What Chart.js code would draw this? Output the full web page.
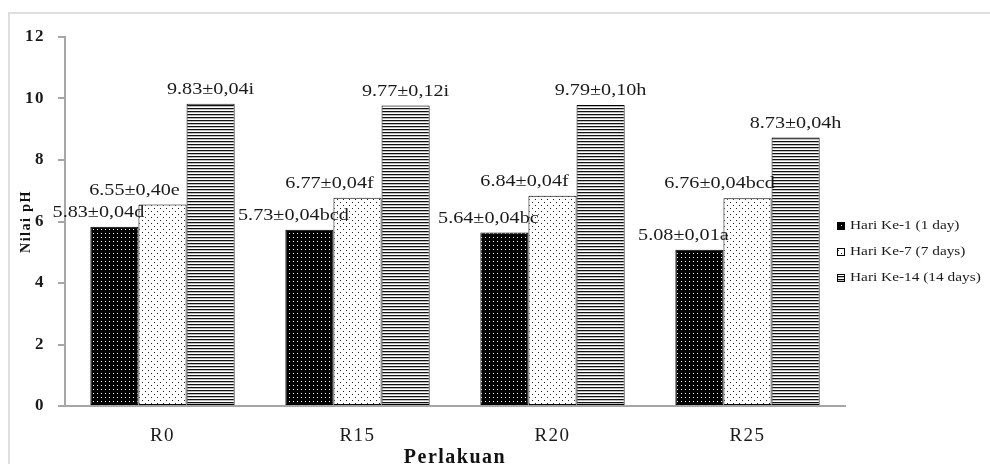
<!DOCTYPE html>
<html>
<head>
<meta charset="utf-8">
<script src="https://cdn.jsdelivr.net/npm/chart.js@4.4.1/dist/chart.umd.min.js"></script>
<style>
  html, body { margin: 0; padding: 0; background: #fff; overflow: hidden; }
  #wrap { width: 990px; height: 464px; position: relative; }
</style>
</head>
<body>
<div id="wrap"><canvas id="phChart"></canvas></div>
<script>
// Data
const categories = ['R0', 'R15', 'R20', 'R25'];
const seriesNames = ['Hari Ke-1 (1 day)', 'Hari Ke-7 (7 days)', 'Hari Ke-14 (14 days)'];
const day1 = [5.83, 5.73, 5.64, 5.08];
const day7 = [6.55, 6.77, 6.84, 6.76];
const day14 = [9.83, 9.77, 9.79, 8.73];
const day1Labels = ['5.83±0,04d', '5.73±0,04bcd', '5.64±0,04bc', '5.08±0,01a'];
const day7Labels = ['6.55±0,40e', '6.77±0,04f', '6.84±0,04f', '6.76±0,04bcd'];
const day14Labels = ['9.83±0,04i', '9.77±0,12i', '9.79±0,10h', '8.73±0,04h'];
const yTicks = [0, 2, 4, 6, 8, 10, 12];

const serif = '"Liberation Serif", "Times New Roman", serif';

// Fill patterns (dots on black, dots on white, horizontal stripes)
function makePattern(kind) {
    const c = document.createElement('canvas');
    const g = c.getContext('2d');
    if (kind === 'darkDots') {
        c.width = 4; c.height = 4;
        g.fillStyle = '#000'; g.fillRect(0, 0, 4, 4);
        g.fillStyle = '#fff'; g.fillRect(1, 1, 1, 1);
    } else if (kind === 'lightDots') {
        c.width = 6; c.height = 6;
        g.fillStyle = '#fff'; g.fillRect(0, 0, 6, 6);
        g.fillStyle = '#222';
        g.fillRect(1, 1, 1, 1);
        g.fillRect(4, 4, 1, 1);
    } else {
        c.width = 4; c.height = 3;
        g.fillStyle = '#bdbdbd'; g.fillRect(0, 0, 4, 3);
        g.fillStyle = '#111'; g.fillRect(0, 0, 4, 1);
        g.fillStyle = '#fff'; g.fillRect(0, 2, 4, 1);
    }
    return g.createPattern(c, 'repeat');
}

const fills = [makePattern('darkDots'), makePattern('lightDots'), makePattern('stripes')];
const valueLabels = [day1Labels, day7Labels, day14Labels];

// The original text is set wide, so space the axis letters a little
const spacing = {
    id: 'spacing',
    beforeLayout(chart) { chart.ctx.letterSpacing = '1.5px'; },
    beforeDraw(chart) { chart.ctx.letterSpacing = '1.5px'; }
};

// draw text stretched sideways, like the source figure
function wideText(ctx, text, x, y, sx) {
    ctx.save();
    ctx.translate(x, y);
    ctx.scale(sx, 1);
    ctx.fillText(text, 0, 0);
    ctx.restore();
}

// Value labels above each bar
const barLabels = {
    id: 'barLabels',
    afterDatasetsDraw(chart) {
        const ctx = chart.ctx;
        const shift = [-16, -28, 0];
        ctx.save();
        ctx.font = '16px ' + serif;
        ctx.letterSpacing = '0px';
        ctx.fillStyle = '#1a1a1a';
        ctx.textAlign = 'center';
        ctx.textBaseline = 'alphabetic';
        chart.data.datasets.forEach((ds, i) => {
            chart.getDatasetMeta(i).data.forEach((bar, j) => {
                wideText(ctx, valueLabels[i][j], bar.x + shift[i], bar.y - 10, 1.26);
            });
        });
        ctx.restore();
    }
};

// Legend on the right and light frame lines
const sideLegend = {
    id: 'sideLegend',
    afterDraw(chart) {
        const ctx = chart.ctx;
        ctx.save();
        ctx.strokeStyle = '#dedede';
        ctx.lineWidth = 2;
        ctx.beginPath();
        ctx.moveTo(9, 464);
        ctx.lineTo(9, 13);
        ctx.lineTo(990, 13);
        ctx.stroke();

        ctx.font = '13px ' + serif;
        ctx.letterSpacing = '0px';
        ctx.textBaseline = 'middle';
        ctx.textAlign = 'left';
        chart.data.datasets.forEach((ds, i) => {
            const y = 226 + i * 26;
            ctx.fillStyle = ds.backgroundColor;
            ctx.fillRect(837, y - 4, 8, 8);
            ctx.strokeStyle = '#000';
            ctx.lineWidth = 1;
            ctx.strokeRect(837.5, y - 3.5, 7, 7);
            ctx.fillStyle = '#1a1a1a';
            wideText(ctx, ds.label, 850, y, 1.18);
        });
        ctx.restore();
    }
};

new Chart(document.getElementById('phChart'), {
    type: 'bar',
    data: {
        labels: categories,
        datasets: [
            { label: seriesNames[0], data: day1, backgroundColor: fills[0] },
            { label: seriesNames[1], data: day7, backgroundColor: fills[1] },
            { label: seriesNames[2], data: day14, backgroundColor: fills[2] }
        ].map(ds => Object.assign(ds, {
            borderColor: '#000',
            borderWidth: 1,
            borderSkipped: false,
            barPercentage: 1,
            categoryPercentage: 0.74
        }))
    },
    options: {
        responsive: true,
        maintainAspectRatio: false,
        animation: false,
        layout: { padding: { left: 18, top: 37, right: 145, bottom: 0 } },
        plugins: {
            legend: { display: false },
            tooltip: { enabled: false }
        },
        scales: {
            x: {
                grid: { display: false, drawTicks: false },
                border: { color: '#a6a6a6', width: 2 },
                ticks: {
                    color: '#1a1a1a',
                    padding: 19,
                    font: { family: serif, size: 19 }
                },
                title: {
                    display: true,
                    text: 'Perlakuan',
                    color: '#111',
                    padding: { top: 0, bottom: -6 },
                    font: { family: serif, size: 20, weight: 'bold' }
                },
                afterFit(scale) { scale.height = 58; }
            },
            y: {
                min: 0,
                max: 12,
                afterBuildTicks(scale) {
                    scale.ticks = yTicks.map(v => ({ value: v }));
                },
                grid: { drawOnChartArea: false, tickLength: 7, color: '#a6a6a6', lineWidth: 2 },
                border: { color: '#a6a6a6', width: 2 },
                ticks: {
                    color: '#1a1a1a',
                    padding: 13,
                    font: { family: serif, size: 17, weight: 'bold' }
                },
                title: {
                    display: true,
                    text: 'Nilai pH',
                    color: '#111',
                    padding: 0,
                    font: { family: serif, size: 14, weight: 'bold' }
                },
                afterFit(scale) { scale.width = 47; }
            }
        }
    },
    plugins: [spacing, barLabels, sideLegend]
});
</script>
</body>
</html>
